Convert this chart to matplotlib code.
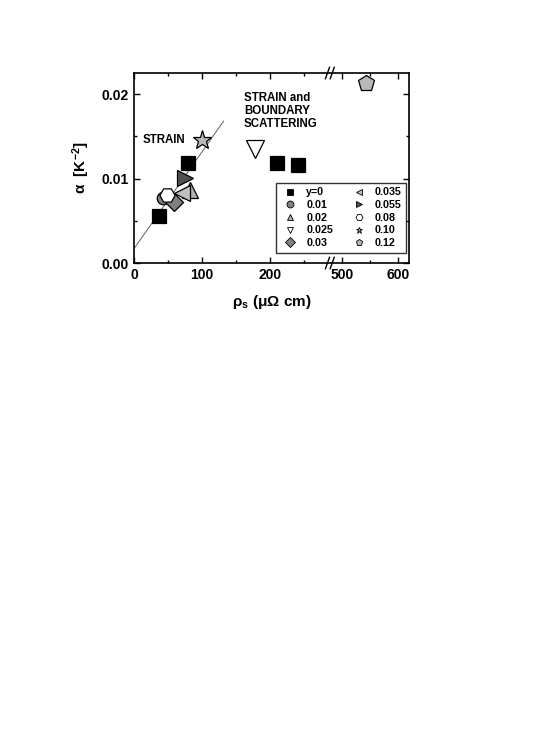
import numpy as np
import matplotlib
matplotlib.use("Agg")
import matplotlib.pyplot as plt
from matplotlib.lines import Line2D

plt.rcParams['font.family'] = ['Liberation Sans', 'DejaVu Sans']
plt.rcParams['font.weight'] = 'bold'
plt.rcParams['mathtext.fontset'] = 'custom'
plt.rcParams['mathtext.rm'] = 'Liberation Sans:bold'
plt.rcParams['mathtext.bf'] = 'Liberation Sans:bold'
plt.rcParams['mathtext.default'] = 'regular'

# data: (rho_s in uOhm cm, alpha in K^-2)
labels = ["y=0", "0.01", "0.02", "0.025", "0.03", "0.035", "0.055", "0.08", "0.10", "0.12"]
rho = [[37, 80, 210, 242], [43], [82], [178], [59], [71], [75], [48], [100], [543]]
alpha = [[0.0056, 0.0118, 0.0119, 0.0116], [0.0077], [0.0087], [0.0135], [0.0072],
         [0.0083], [0.0101], [0.0080], [0.0146], [0.0213]]
markers = ["s", "o", "^", "v", "D", "<", ">", "H", "*", "p"]
faces = ["black", "#808080", "#b0b0b0", "white", "#808080", "#c0c0c0", "#505050",
         "white", "#b8b8b8", "#b8b8b8"]
sizes = [10.5, 9, 11, 13, 9, 11, 11, 11, 14, 12]

fit_x = [0, 132]
fit_y = [0.0017, 0.0168]

# broken x axis: 0-290 linear, 480-620 compressed slightly
B1, B2, K, EPS = 290.0, 480.0, 0.82, 1e-3


def fwd(x):
    x = np.asarray(x, dtype=float)
    return np.where(x <= B1, x,
                    np.where(x < B2, B1 + (x - B1) * EPS,
                             B1 + (B2 - B1) * EPS + (x - B2) * K))


def inv(u):
    u = np.asarray(u, dtype=float)
    g = B1 + (B2 - B1) * EPS
    return np.where(u <= B1, u,
                    np.where(u < g, B1 + (u - B1) / EPS, B2 + (u - g) / K))


fig = plt.figure(figsize=(5.37, 7.33), dpi=100)
ax = fig.add_axes([0.2495, 0.6412, 0.512, 0.2592])
ax.set_xscale('function', functions=(fwd, inv))

ax.plot(fit_x, fit_y, color='#606060', lw=0.7, zorder=1)

handles = []
for i in range(len(labels)):
    ax.plot(rho[i], alpha[i], ls='none', marker=markers[i], ms=sizes[i],
            mfc=faces[i], mec='black', mew=0.9, zorder=3)
    handles.append(Line2D([], [], ls='none', marker=markers[i], ms=5,
                          mfc=faces[i], mec='black', mew=0.6, label=labels[i]))

ax.set_xlim(0, 620)
ax.set_ylim(0, 0.0225)
ax.set_xticks([0, 100, 200, 500, 600])
ax.set_xticks([50, 150, 250, 550], minor=True)
ax.set_yticks([0.00, 0.01, 0.02])
ax.set_yticklabels(['0.00', '0.01', '0.02'])
ax.set_yticks([0.005, 0.015], minor=True)
ax.tick_params(which='both', direction='in', top=True, right=True,
               labelsize=10, width=1)
ax.tick_params(which='major', length=4)
ax.tick_params(which='minor', length=2.5)
for s in ax.spines.values():
    s.set_linewidth(1.2)

# break marks
xb = float(fwd(B1))
for yb in (0.0, 1.0):
    for dx in (-5, 2):
        ax.plot([float(inv(xb + dx - 3)), float(inv(xb + dx + 3))], [yb - 0.03, yb + 0.03],
                transform=ax.get_xaxis_transform(), color='black', lw=1,
                clip_on=False, zorder=5)

ax.text(13, 0.0146, "STRAIN", fontsize=8.3, fontweight='bold', va='center')
ax.text(162, 0.0203, "STRAIN and\nBOUNDARY\nSCATTERING", fontsize=8.3,
        fontweight='bold', va='top', linespacing=1.15)

leg = ax.legend(handles=handles, ncol=2, loc='lower right', fontsize=7.7,
                frameon=True, fancybox=False, edgecolor='black',
                handlelength=1.8, handletextpad=0.6, columnspacing=1.5,
                labelspacing=0.25, borderpad=0.45, borderaxespad=0,
                bbox_to_anchor=(0.99, 0.053))
leg.get_frame().set_linewidth(1.0)
for t in leg.get_texts():
    t.set_fontweight('bold')

ax.set_xlabel("ρ$_\\mathregular{s}$ (μΩ cm)", fontsize=11,
              fontweight='bold', labelpad=8)
ax.set_ylabel("α  [K$^{-2}$]", fontsize=11, fontweight='bold', labelpad=7)

fig.savefig("out.png", dpi=100)
